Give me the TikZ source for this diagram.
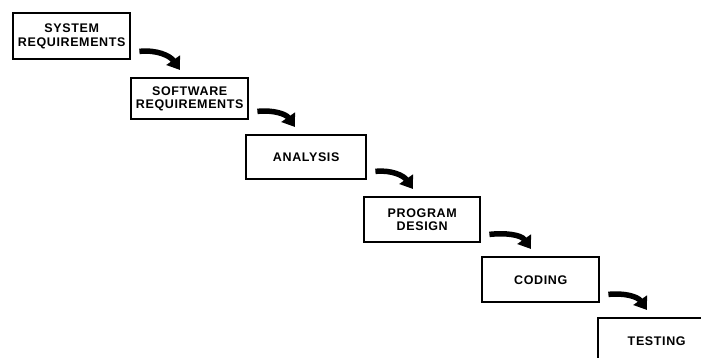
\documentclass[tikz,border=0pt]{standalone}
\usepackage{fontspec}
\newfontfamily\boxfont{Liberation Sans}[LetterSpace=5]
\usetikzlibrary{arrows.meta}
\tikzset{
  stage/.style={draw=black, line width=2.4pt, anchor=north west, align=center,
    inner sep=0pt, font=\boxfont\bfseries\fontsize{12.5}{13.5}\selectfont},
  flow/.style={line width=5.5pt, -{Triangle[length=12pt,width=16pt]}}
}
\begin{document}
\begin{tikzpicture}[x=1pt,y=-1pt]
\useasboundingbox (0,0) rectangle (701,358);
\node[stage, minimum width=117pt, minimum height=46pt] (b1) at (12,12) {SYSTEM\\REQUIREMENTS};
\node[stage, minimum width=117pt, minimum height=41pt] (b2) at (130,77) {SOFTWARE\\REQUIREMENTS};
\node[stage, minimum width=120pt, minimum height=44pt] (b3) at (245,134) {ANALYSIS};
\node[stage, minimum width=116pt, minimum height=45pt] (b4) at (363,196) {PROGRAM\\DESIGN};
\node[stage, minimum width=117pt, minimum height=45pt] (b5) at (481,256) {CODING};
\node[stage, minimum width=117pt, minimum height=45pt] (b6) at (597,317) {TESTING};
\foreach \a/\b in {b1/b2, b2/b3, b3/b4, b4/b5, b5/b6}{
  \draw[flow] ([shift={(8,-9)}]\a.south east) to[out=6,in=125] ([shift={(50,-7)}]\b.north west);
}
\end{tikzpicture}
\end{document}
